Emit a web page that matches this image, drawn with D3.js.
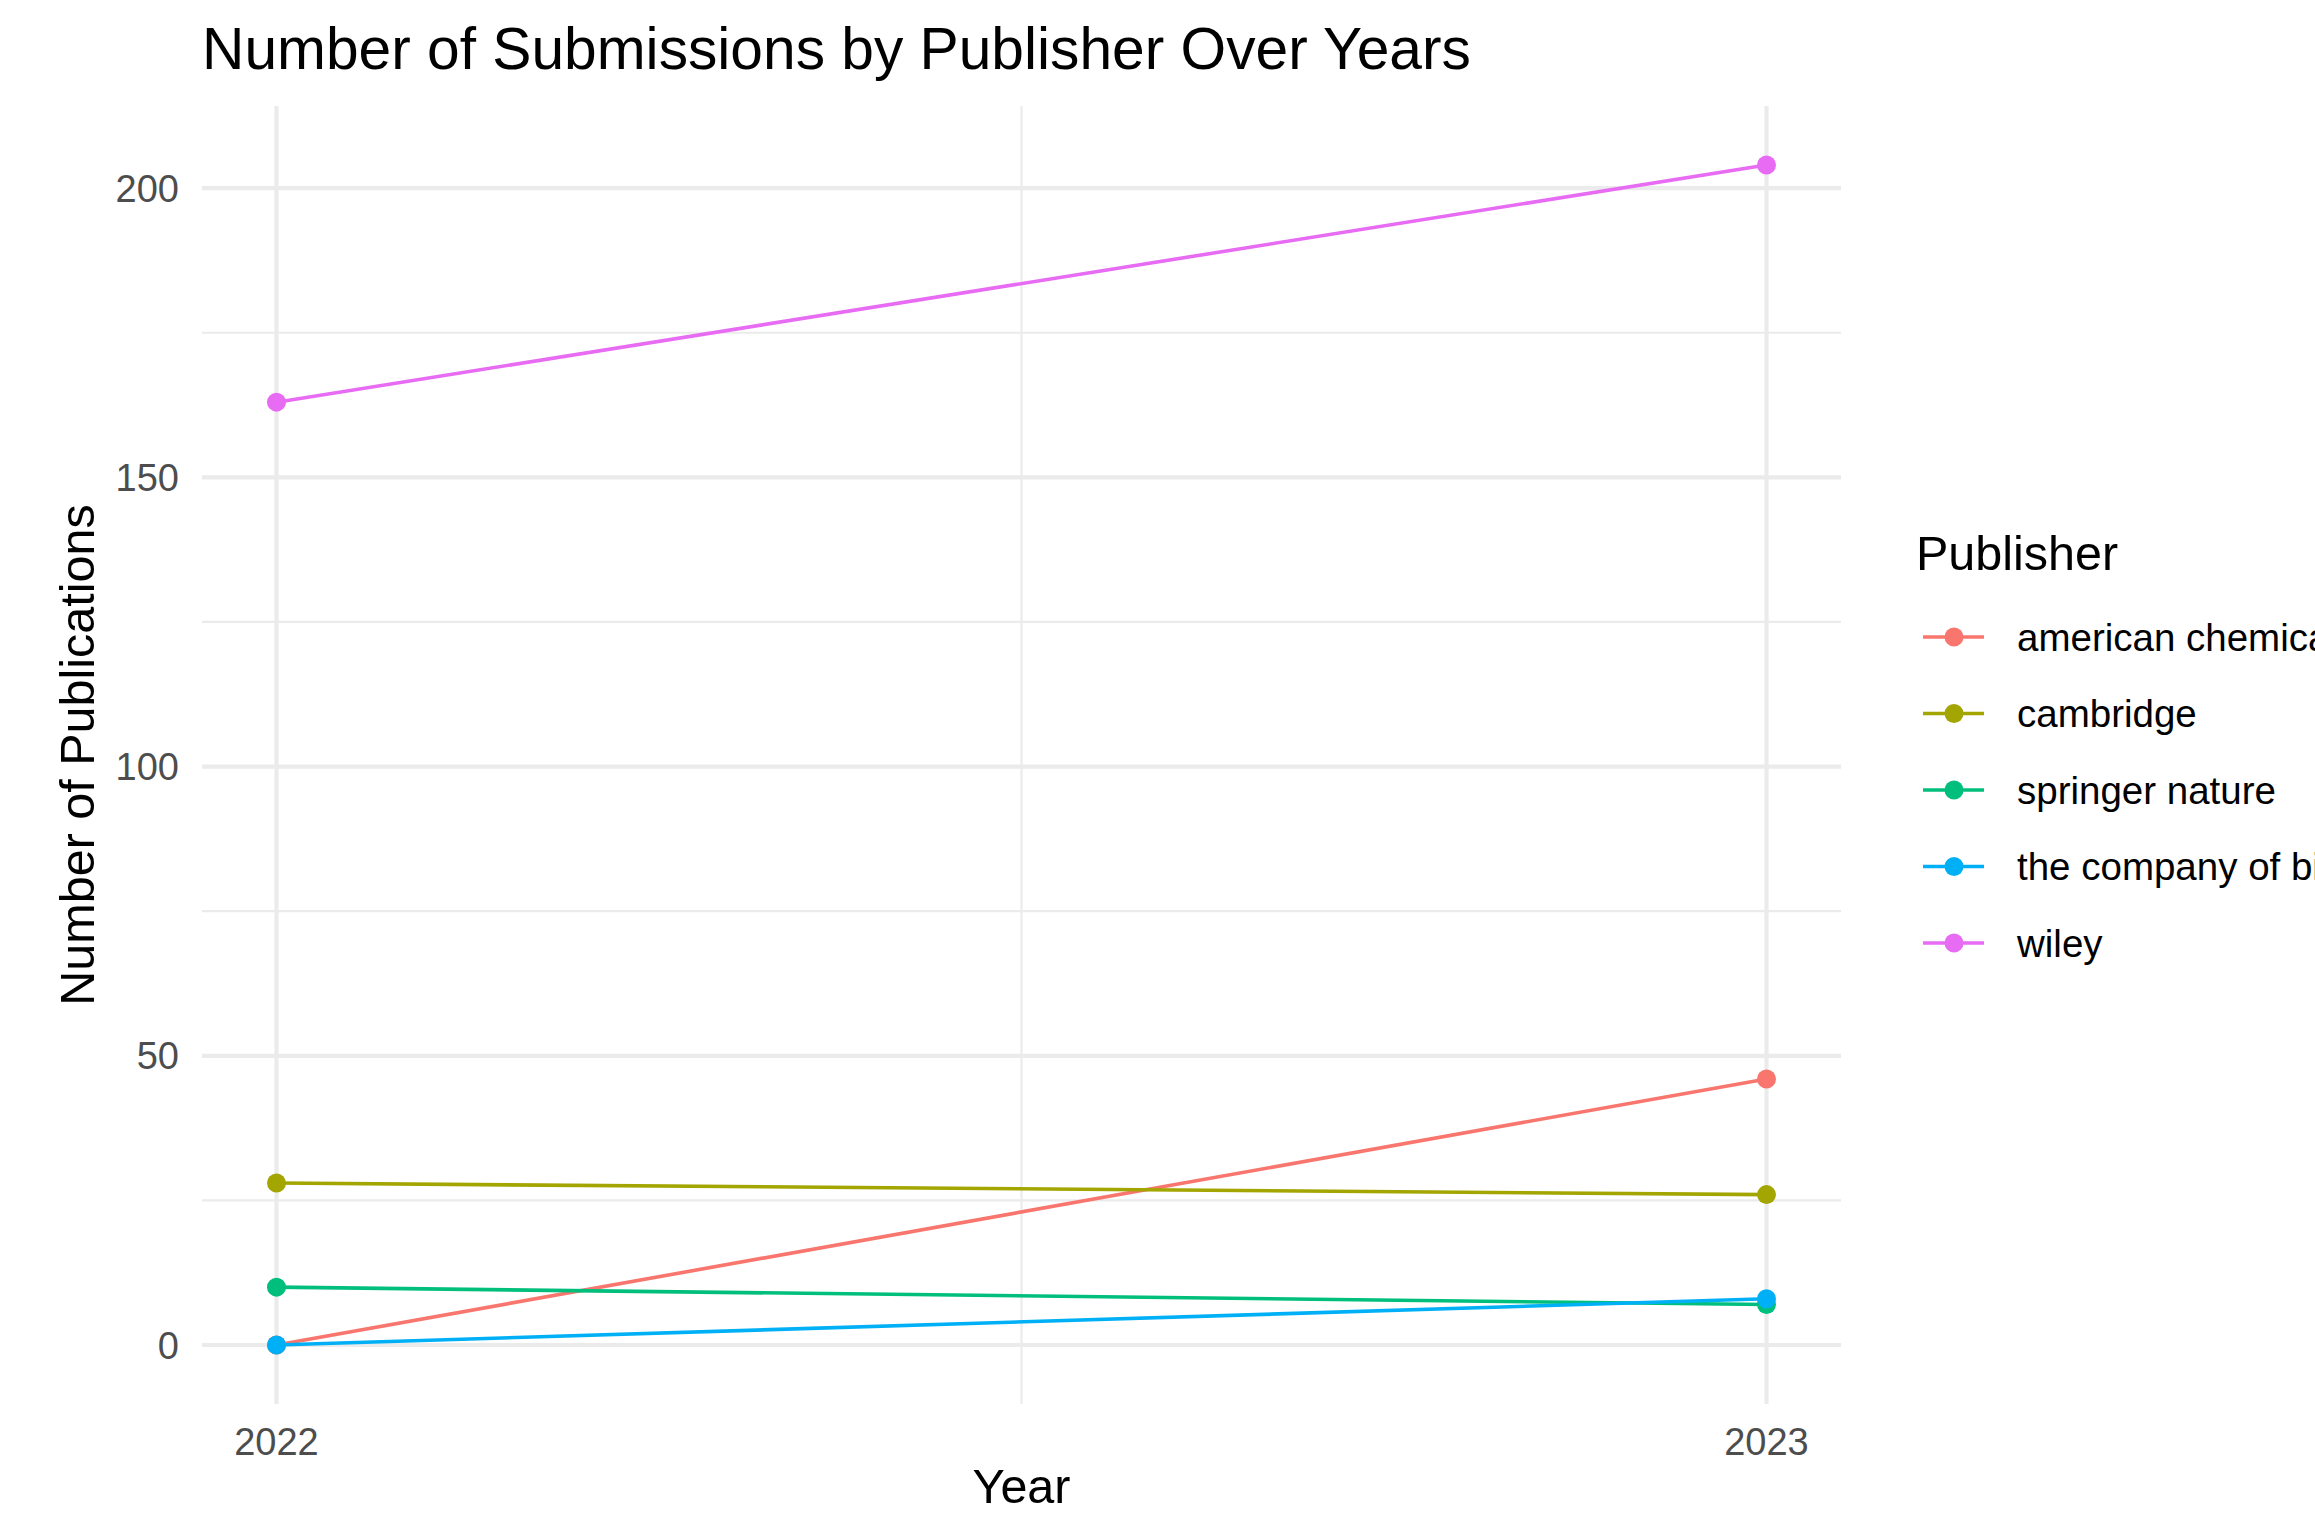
<!DOCTYPE html>
<html lang="en">
<head>
  <meta charset="UTF-8">
  <title>Number of Submissions by Publisher Over Years</title>
  <script src="https://d3js.org/d3.v7.min.js"></script>
  <style>
    body {
      margin: 0;
      background-color: #ffffff;
      overflow: hidden;
    }
    svg {
      display: block;
      font-family: "Liberation Sans", Arial, Helvetica, sans-serif;
    }
    .tick-label {
      font-size: 38px;
      fill: #4d4d4d;
    }
    .axis-title {
      font-size: 48.5px;
      fill: #000000;
    }
    .legend-label {
      font-size: 38.5px;
      fill: #000000;
    }
  </style>
</head>
<body>
  <svg id="chart"></svg>
  <script>
    // data
    const years = [2022, 2023];
    const publishers = ["american chemical society", "cambridge", "springer nature", "the company of biologists", "wiley"];
    const colors = ["#F8766D", "#A3A500", "#00BF7D", "#00B0F6", "#E76BF3"];
    const americanChemical = [0, 46];
    const cambridge = [28, 26];
    const springerNature = [10, 7];
    const companyOfBiologists = [0, 8];
    const wiley = [163, 204];
    const seriesValues = [americanChemical, cambridge, springerNature, companyOfBiologists, wiley];
    const yMajorTicks = [0, 50, 100, 150, 200];
    const yMinorTicks = [25, 75, 125, 175];
    const xMinorTicks = [2022.5];

    const svgWidth = 2315;
    const svgHeight = 1515;
    const panel = { left: 202, right: 1841, top: 106, bottom: 1404 };

    const svg = d3.select("#chart")
      .attr("width", svgWidth)
      .attr("height", svgHeight);

    const series = publishers.map((name, i) => ({
      name,
      color: colors[i],
      values: years.map((yr, j) => ({ year: yr, count: seriesValues[i][j] }))
    }));

    // ggplot style 5% expansion on both axes
    const xExt = d3.extent(years);
    const xPad = (xExt[1] - xExt[0]) * 0.05;
    const x = d3.scaleLinear()
      .domain([xExt[0] - xPad, xExt[1] + xPad])
      .range([panel.left, panel.right]);

    const yMax = d3.max(seriesValues, s => d3.max(s));
    const yPad = yMax * 0.05;
    const y = d3.scaleLinear()
      .domain([-yPad, yMax + yPad])
      .range([panel.bottom, panel.top]);

    // grid
    const grid = svg.append("g");
    grid.selectAll(".minor-y")
      .data(yMinorTicks)
      .enter()
      .append("line")
      .attr("x1", panel.left).attr("x2", panel.right)
      .attr("y1", d => y(d)).attr("y2", d => y(d))
      .attr("stroke", "#ebebeb").attr("stroke-width", 2.2);
    grid.selectAll(".minor-x")
      .data(xMinorTicks)
      .enter()
      .append("line")
      .attr("x1", d => x(d)).attr("x2", d => x(d))
      .attr("y1", panel.top).attr("y2", panel.bottom)
      .attr("stroke", "#ebebeb").attr("stroke-width", 2.2);
    grid.selectAll(".major-y")
      .data(yMajorTicks)
      .enter()
      .append("line")
      .attr("x1", panel.left).attr("x2", panel.right)
      .attr("y1", d => y(d)).attr("y2", d => y(d))
      .attr("stroke", "#ebebeb").attr("stroke-width", 4.2);
    grid.selectAll(".major-x")
      .data(years)
      .enter()
      .append("line")
      .attr("x1", d => x(d)).attr("x2", d => x(d))
      .attr("y1", panel.top).attr("y2", panel.bottom)
      .attr("stroke", "#ebebeb").attr("stroke-width", 4.2);

    // tick labels
    svg.selectAll(".y-tick")
      .data(yMajorTicks)
      .enter()
      .append("text")
      .attr("class", "tick-label")
      .attr("x", 179)
      .attr("y", d => y(d))
      .attr("dy", "0.36em")
      .attr("text-anchor", "end")
      .text(d => d);

    svg.selectAll(".x-tick")
      .data(years)
      .enter()
      .append("text")
      .attr("class", "tick-label")
      .attr("x", d => x(d))
      .attr("y", 1455)
      .attr("text-anchor", "middle")
      .text(d => d);

    // lines then points
    const line = d3.line()
      .x(d => x(d.year))
      .y(d => y(d.count));

    svg.selectAll(".series-line")
      .data(series)
      .enter()
      .append("path")
      .attr("d", d => line(d.values))
      .attr("fill", "none")
      .attr("stroke", d => d.color)
      .attr("stroke-width", 3.6);

    series.forEach(s => {
      svg.selectAll(null)
        .data(s.values)
        .enter()
        .append("circle")
        .attr("cx", d => x(d.year))
        .attr("cy", d => y(d.count))
        .attr("r", 9.5)
        .attr("fill", s.color);
    });

    // titles
    svg.append("text")
      .attr("x", 202)
      .attr("y", 69)
      .attr("font-size", "58.7px")
      .attr("fill", "#000")
      .text("Number of Submissions by Publisher Over Years");

    svg.append("text")
      .attr("class", "axis-title")
      .attr("x", (panel.left + panel.right) / 2)
      .attr("y", 1503)
      .attr("text-anchor", "middle")
      .text("Year");

    svg.append("text")
      .attr("class", "axis-title")
      .attr("transform", `translate(94, ${(panel.top + panel.bottom) / 2}) rotate(-90)`)
      .attr("text-anchor", "middle")
      .text("Number of Publications");

    // legend
    const legend = svg.append("g");
    legend.append("text")
      .attr("class", "axis-title")
      .attr("x", 1916)
      .attr("y", 570)
      .text("Publisher");

    const itemY = d3.scalePoint()
      .domain(publishers)
      .range([637, 943]);

    const items = legend.selectAll(".item")
      .data(series)
      .enter()
      .append("g")
      .attr("transform", d => `translate(0, ${itemY(d.name)})`);

    items.append("line")
      .attr("x1", 1923).attr("x2", 1984)
      .attr("y1", 0).attr("y2", 0)
      .attr("stroke", d => d.color)
      .attr("stroke-width", 3.6);

    items.append("circle")
      .attr("cx", 1954)
      .attr("cy", 0)
      .attr("r", 9.5)
      .attr("fill", d => d.color);

    items.append("text")
      .attr("class", "legend-label")
      .attr("x", 2017)
      .attr("dy", "0.36em")
      .text(d => d.name);
  </script>
</body>
</html>
